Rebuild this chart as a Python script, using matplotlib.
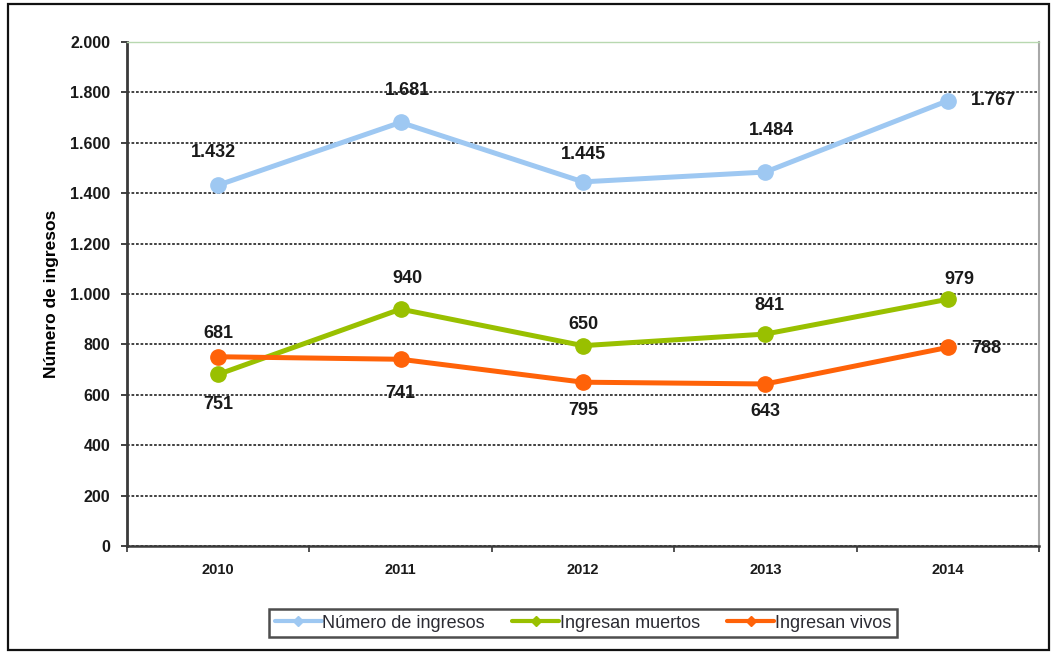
#!/usr/bin/env python3
"""Ingresos por año: total, muertos y vivos (2010-2014)."""

import matplotlib
matplotlib.use("Agg")
import matplotlib.pyplot as plt
from matplotlib.patches import Rectangle
from matplotlib.ticker import FuncFormatter, FixedLocator

years = ["2010", "2011", "2012", "2013", "2014"]
total = [1432, 1681, 1445, 1484, 1767]
muertos = [681, 940, 795, 841, 979]
vivos = [751, 741, 650, 643, 788]

C_TOTAL = "#9ec8f2"
C_MUERTOS = "#99c000"
C_VIVOS = "#ff6208"

# label offsets (pixels) relative to each point, as placed in the source chart
off_total = [(-5, 33), (7, 32), (0, 27), (6, 42), (46, 0)]
off_muertos = [(0, 41), (7, 31), (0, -65), (4, 29), (12, 20)]
off_vivos = [(0, -48), (0, -34), (0, 58), (0, -28), (38, -1)]


def thousands(v, _pos):
    return f"{int(v):,}".replace(",", ".")


def main() -> None:
    plt.rcParams.update({"font.family": ["Liberation Sans", "DejaVu Sans"]})
    fig = plt.figure(figsize=(10.55, 6.52), dpi=100)
    ax = fig.add_axes([127 / 1055, 106 / 652, 912 / 1055, 504 / 652])

    x = list(range(len(years)))
    series = [
        (total, C_TOTAL, "Número de ingresos", off_total),
        (muertos, C_MUERTOS, "Ingresan muertos", off_muertos),
        (vivos, C_VIVOS, "Ingresan vivos", off_vivos),
    ]
    for vals, col, lab, offs in series:
        ax.plot(x, vals, color=col, lw=3.6, marker="o", ms=11, label=lab,
                solid_capstyle="round", zorder=3)
        for xi, v, (dx, dy) in zip(x, vals, offs):
            ax.annotate(thousands(v, None), (xi, v), xytext=(dx, dy),
                        textcoords="offset pixels", ha="center", va="center",
                        fontsize=13, fontweight="bold", color="#1a1a1a", zorder=4)

    ax.set_xlim(-0.5, len(years) - 0.5)
    ax.set_ylim(0, 2000)
    ax.set_yticks(range(0, 2001, 200))
    ax.yaxis.set_major_formatter(FuncFormatter(thousands))
    ax.set_xticks(x)
    ax.set_xticklabels(years)
    ax.xaxis.set_minor_locator(FixedLocator([i - 0.5 for i in range(len(years) + 1)]))
    ax.tick_params(axis="x", which="major", length=0, pad=12, labelsize=10.5)
    ax.tick_params(axis="x", which="minor", length=4, width=1.3, color="#444")
    ax.tick_params(axis="y", length=4, width=1.3, color="#333", labelsize=11.5, pad=8)
    for t in ax.get_xticklabels() + ax.get_yticklabels():
        t.set_fontweight("bold")
        t.set_color("#1a1a1a")

    ax.grid(axis="y", color="#333333", lw=1.3, ls=(0, (1.5, 1)), zorder=1)
    ax.set_axisbelow(True)
    ax.spines["left"].set_color("#3a3a3a")
    ax.spines["left"].set_linewidth(2.0)
    ax.spines["bottom"].set_color("#3a3a3a")
    ax.spines["bottom"].set_linewidth(1.8)
    ax.spines["top"].set_color("#b8d8b0")
    ax.spines["top"].set_linewidth(1.0)
    ax.spines["right"].set_color("#a8a8a8")
    ax.spines["right"].set_linewidth(1.5)

    ax.set_ylabel("Número de ingresos", fontsize=12.5, fontweight="bold")
    ax.yaxis.set_label_coords(-68 / 912, 0.5)

    leg = fig.legend(loc="center", bbox_to_anchor=(583 / 1055, (652 - 623) / 652),
                     ncol=3, frameon=True, fontsize=13, handlelength=2.6,
                     handletextpad=0.05, columnspacing=1.5, borderpad=0.3,
                     fancybox=False)
    leg.get_frame().set_edgecolor("#222222")
    leg.get_frame().set_linewidth(1.8)
    for h in leg.get_lines():
        h.set_linewidth(3)
        h.set_marker("D")
        h.set_markersize(5)
    for t in leg.get_texts():
        t.set_color("#2b2b33")

    fig.patches.append(Rectangle((8 / 1055, 2 / 652), 1041 / 1055, 646 / 652,
                                 transform=fig.transFigure, fill=False,
                                 edgecolor="#111111", lw=1.6))

    fig.savefig("out.png", dpi=100)
    plt.close(fig)


if __name__ == "__main__":
    main()
